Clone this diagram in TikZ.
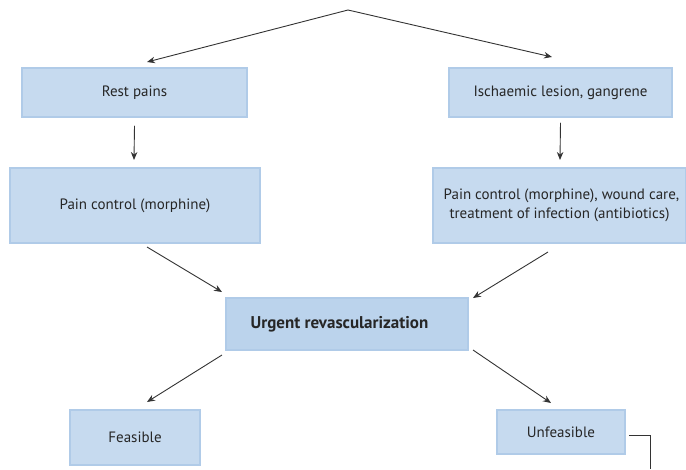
\documentclass[tikz,border=0pt]{standalone}
\usepackage{fontspec}
\setmainfont{PT Sans}
\usetikzlibrary{arrows.meta}
\definecolor{boxfill}{HTML}{C6DAEF}
\definecolor{boxedge}{HTML}{B0CBE8}
\definecolor{urgfill}{HTML}{BBD3EC}
\definecolor{linec}{HTML}{333333}
\begin{document}
\begin{tikzpicture}[x=1pt,y=-1pt,
  box/.style={draw=boxedge, line width=1.5pt, fill=boxfill, font=\fontsize{15}{18}\selectfont, text=black!85, align=center, inner sep=0pt},
  arr/.style={draw=linec, line width=0.9pt, -{Stealth[length=8pt,width=6.5pt]}},
  ln/.style={draw=linec, line width=0.9pt}]
\useasboundingbox (0,0) rectangle (686,469);
\coordinate (apex) at (348,10);
\node[box, minimum width=225pt, minimum height=49pt] (rest) at (134.5,92.5) {Rest pains};
\node[box, minimum width=223pt, minimum height=49pt] (isch) at (560.5,92.5) {Ischaemic lesion, gangrene};
\node[box, minimum width=250pt, minimum height=75pt] (pcl) at (135,205.5) {Pain control (morphine)};
\node[box, minimum width=253pt, minimum height=75pt] (pcr) at (559.5,205.5) {\hspace*{4pt}Pain control (morphine), wound care,\\[1pt] treatment of infection (antibiotics)};
\node[box, fill=urgfill, minimum width=242pt, minimum height=52pt, font=\fontsize{17}{20}\selectfont\bfseries] (urg) at (347,324) {\hspace*{-15pt}Urgent revascularization};
\node[box, minimum width=130pt, minimum height=55pt] (feas) at (135,437.5) {Feasible};
\node[box, minimum width=128pt, minimum height=44pt] (unf) at (561,432) {Unfeasible};
\coordinate (tail) at (650,469);
\draw[arr] (apex) -- (147,62);
\draw[arr] (apex) -- (552,57);
\draw[arr] (rest.south) ++(0,8) -- (134,160);
\draw[arr] (isch.south) ++(0,5) -- (560,160);
\draw[arr] (147,247) -- (222,292);
\draw[arr] (548,252) -- (473,298);
\draw[arr] (222,355) -- (147,402);
\draw[arr] (473,350) -- (551,403);
\draw[ln] (unf.east) ++(3,3) -| (tail);
\end{tikzpicture}
\end{document}
